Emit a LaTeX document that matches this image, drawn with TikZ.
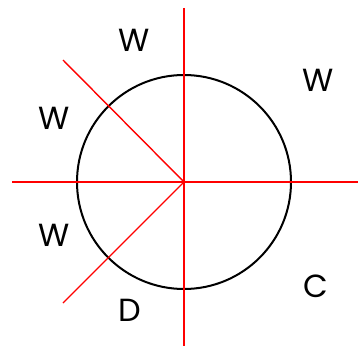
\documentclass[tikz,border=0pt]{standalone}
\usepackage{fontspec}
\setmainfont{Poppins}
\begin{document}
\begin{tikzpicture}[x=1pt,y=1pt,
  redline/.style={red, line width=1.4pt},
  lbl/.style={font=\fontsize{32}{36}\selectfont, inner sep=0pt}]
\useasboundingbox (0,0) rectangle (361,354);
\coordinate (o) at (184,172);
\draw[line width=2pt] (o) circle (107);
\coordinate (l) at (12,172);
\coordinate (r) at (358,172);
\coordinate (t) at (184,346);
\coordinate (b) at (184,8);
\coordinate (ul) at (63,294);
\coordinate (dl) at (63,51);
\draw[redline] (l) -- (r);
\draw[redline] (t) -- (b);
\draw[redline] (o) -- (ul);
\draw[redline] (o) -- (dl);
\node[lbl] (w1) at (134,314) {W};
\node[lbl] (w2) at (318,274) {W};
\node[lbl] (w3) at (54,236) {W};
\node[lbl] (w4) at (54,119) {W};
\node[lbl] (c) at (316,68) {C};
\node[lbl] (d) at (130,44) {D};
\end{tikzpicture}
\end{document}
